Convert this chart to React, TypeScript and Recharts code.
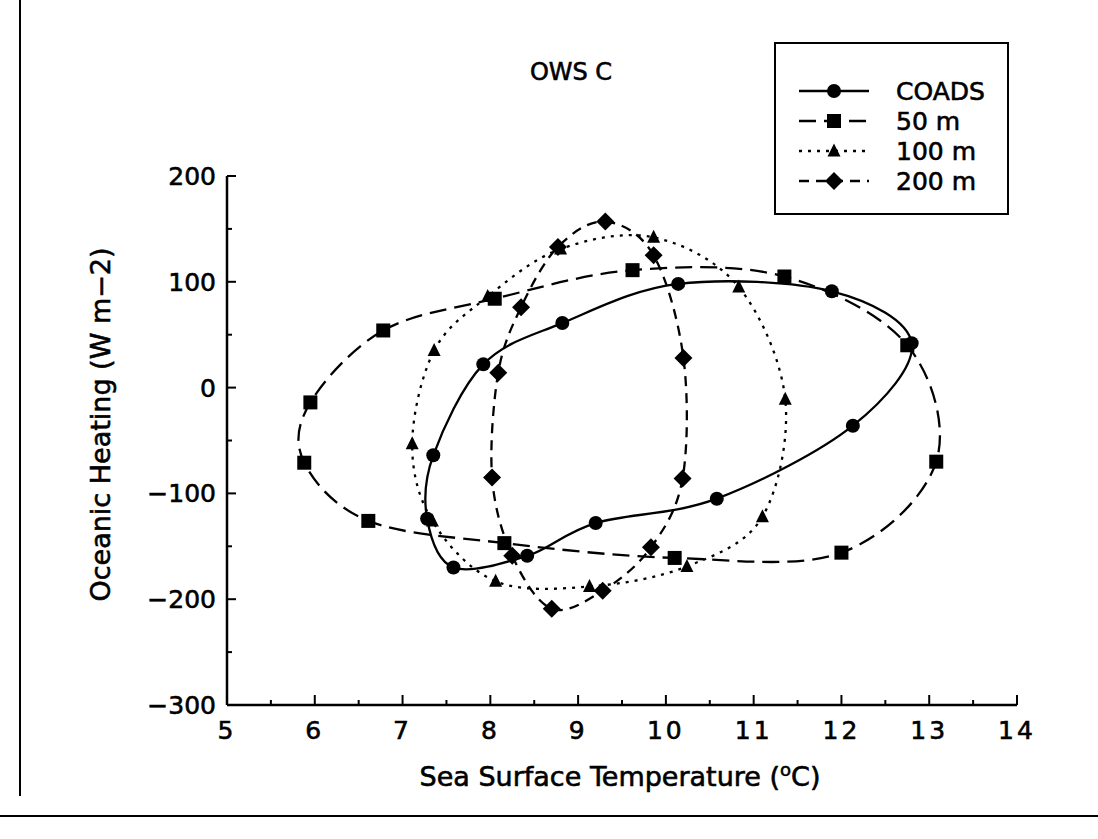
import React from 'react';
import { ComposedChart, Line, XAxis, YAxis, Legend } from 'recharts';

// ---- data ----
const xTickValues = [5, 5.5, 6, 6.5, 7, 7.5, 8, 8.5, 9, 9.5, 10, 10.5, 11, 11.5, 12, 12.5, 13, 13.5, 14];
const yTickValues = [-300, -250, -200, -150, -100, -50, 0, 50, 100, 150, 200];

const seriesNames = ['COADS', '50 m', '100 m', '200 m'];

const coadsX = [7.35, 7.28, 7.58, 8.42, 9.2, 10.58, 12.13, 12.8, 11.89, 10.14, 8.82, 7.92];
const coadsY = [-64, -124, -170, -159, -128, -105, -36, 42, 91, 98, 61, 22];

const m50X = [6.78, 8.05, 9.62, 11.35, 12.75, 13.08, 12.0, 10.1, 8.16, 6.61, 5.88, 5.95];
const m50Y = [54, 84, 111, 105, 40, -70, -156, -161, -147, -126, -71, -14];

const m100X = [7.36, 7.97, 8.8, 9.86, 10.83, 11.36, 11.1, 10.24, 9.13, 8.06, 7.34, 7.11];
const m100Y = [35, 86, 131, 142, 95, -11, -122, -169, -188, -183, -126, -53];

const m200X = [9.31, 9.86, 10.2, 10.19, 9.83, 9.28, 8.7, 8.25, 8.02, 8.09, 8.35, 8.77];
const m200Y = [157, 125, 28, -86, -151, -192, -209, -159, -85, 14, 76, 133];

const toPoints = (xs: number[], ys: number[]) => xs.map((x, i) => ({ x, y: ys[i] }));

const FONT = '"DejaVu Sans", sans-serif';
const TEXT_STROKE = 0.6;

type Shape = 'circle' | 'square' | 'triangle' | 'diamond';

const series = [
  { name: seriesNames[0], data: toPoints(coadsX, coadsY), dash: undefined as string | undefined, shape: 'circle' as Shape },
  { name: seriesNames[1], data: toPoints(m50X, m50Y), dash: '17 8', shape: 'square' as Shape },
  { name: seriesNames[2], data: toPoints(m100X, m100Y), dash: '3 6', shape: 'triangle' as Shape },
  { name: seriesNames[3], data: toPoints(m200X, m200Y), dash: '10 7', shape: 'diamond' as Shape },
];

// closed Catmull-Rom curve factory
function closedSpline(context: any) {
  let pts: number[][] = [];
  return {
    areaStart() {},
    areaEnd() {},
    lineStart() {
      pts = [];
    },
    point(x: number, y: number) {
      pts.push([+x, +y]);
    },
    lineEnd() {
      const n = pts.length;
      if (n === 0) return;
      context.moveTo(pts[0][0], pts[0][1]);
      if (n < 3) {
        for (let i = 1; i < n; i++) context.lineTo(pts[i][0], pts[i][1]);
        return;
      }
      for (let i = 0; i < n; i++) {
        const p0 = pts[(i - 1 + n) % n];
        const p1 = pts[i];
        const p2 = pts[(i + 1) % n];
        const p3 = pts[(i + 2) % n];
        context.bezierCurveTo(
          p1[0] + (p2[0] - p0[0]) / 6,
          p1[1] + (p2[1] - p0[1]) / 6,
          p2[0] - (p3[0] - p1[0]) / 6,
          p2[1] - (p3[1] - p1[1]) / 6,
          p2[0],
          p2[1]
        );
      }
      context.closePath();
    },
  };
}

function Marker({ shape, cx, cy }: { shape: Shape; cx: number; cy: number }) {
  if (shape === 'circle') return <circle cx={cx} cy={cy} r={7} fill="#000" />;
  if (shape === 'square') return <rect x={cx - 7} y={cy - 7} width={14} height={14} fill="#000" />;
  if (shape === 'triangle')
    return <polygon points={`${cx},${cy - 7.5} ${cx + 6.5},${cy + 5.5} ${cx - 6.5},${cy + 5.5}`} fill="#000" />;
  return <polygon points={`${cx},${cy - 9} ${cx + 9},${cy} ${cx},${cy + 9} ${cx - 9},${cy}`} fill="#000" />;
}

const makeDot = (shape: Shape, name: string) => (props: any) => {
  const { cx, cy, index } = props;
  if (cx == null || cy == null) return <g key={`${name}-${index}`} />;
  return (
    <g key={`${name}-${index}`}>
      <Marker shape={shape} cx={cx} cy={cy} />
    </g>
  );
};

const fmtY = (v: number) => (v < 0 ? `\u2212${Math.abs(v)}` : `${v}`);

const textProps = {
  fontFamily: FONT,
  fill: '#000',
  stroke: '#000',
  strokeWidth: TEXT_STROKE,
};

const YTick = (props: any) => {
  const { x, y, payload } = props;
  const v = payload.value;
  const major = v % 100 === 0;
  return (
    <g>
      <line x1={x} x2={x + (major ? 9 : 5)} y1={y} y2={y} stroke="#000" strokeWidth={2} />
      {major && (
        <text x={x - 11} y={y} dy="0.36em" textAnchor="end" fontSize={25} {...textProps}>
          {fmtY(v)}
        </text>
      )}
    </g>
  );
};

const XTick = (props: any) => {
  const { x, y, payload } = props;
  const v = payload.value;
  const major = Number.isInteger(v);
  return (
    <g>
      <line x1={x} x2={x} y1={y} y2={y - (major ? 10 : 5)} stroke="#000" strokeWidth={2} />
      {major && (
        <text x={x} y={y + 34} textAnchor="middle" fontSize={25} letterSpacing={3} {...textProps}>
          {`${v}`}
        </text>
      )}
    </g>
  );
};

const XLabel = (props: any) => {
  const vb = props.viewBox || {};
  const cx = vb.x + vb.width / 2;
  return (
    <text x={cx - 2} y={vb.y + 81} textAnchor="middle" fontSize={27} {...textProps}>
      Sea Surface Temperature (
      <tspan fontSize={18} dy={-10}>o</tspan>
      <tspan dy={10}>C)</tspan>
    </text>
  );
};

const YLabel = (props: any) => {
  const vb = props.viewBox || {};
  const cx = vb.x + 3;
  const cy = vb.y + vb.height / 2 - 16;
  return (
    <text
      x={cx}
      y={cy}
      transform={`rotate(-90 ${cx} ${cy})`}
      textAnchor="middle"
      dominantBaseline="central"
      fontSize={27}
      {...textProps}
    >
      Oceanic Heating (W m{'\u2212'}2)
    </text>
  );
};

const LegendBox = () => {
  const rowY = [49, 79, 109, 139];
  return (
    <svg width={236} height={174} style={{ display: 'block' }}>
      <rect x={1} y={1} width={233} height={171} fill="#fff" stroke="#000" strokeWidth={2} />
      {series.map((s, i) => (
        <g key={s.name}>
          <line x1={25} x2={95} y1={rowY[i]} y2={rowY[i]} stroke="#000" strokeWidth={2.3} strokeDasharray={s.dash} />
          <Marker shape={s.shape} cx={60} cy={rowY[i]} />
          <text x={122} y={rowY[i]} dy="0.36em" fontSize={25} {...textProps}>
            {s.name}
          </text>
        </g>
      ))}
    </svg>
  );
};

export default function App() {
  return (
    <div style={{ position: 'absolute', left: 0, top: 0, width: 1098, height: 839, background: '#fff' }}>
      <div style={{ position: 'absolute', left: 19, top: 0, width: 2, height: 796, background: '#000' }} />
      <div style={{ position: 'absolute', left: 0, top: 815, width: 1098, height: 2, background: '#000' }} />
      <div
        style={{
          position: 'absolute',
          left: 471,
          top: 58,
          width: 200,
          textAlign: 'center',
          fontFamily: FONT,
          fontSize: 24,
          color: '#000',
          WebkitTextStroke: '0.6px #000',
        }}
      >
        OWS C
      </div>
      <ComposedChart
        width={1098}
        height={839}
        margin={{ top: 176, right: 81, bottom: 34, left: 97 }}
        style={{ position: 'absolute', left: 0, top: 0 }}
      >
        <XAxis
          type="number"
          dataKey="x"
          domain={[5, 14]}
          ticks={xTickValues}
          interval={0}
          allowDataOverflow
          height={100}
          tickSize={0}
          tickMargin={0}
          tick={<XTick />}
          axisLine={{ stroke: '#000', strokeWidth: 2.5 }}
          tickLine={false}
          label={<XLabel />}
        />
        <YAxis
          type="number"
          dataKey="y"
          domain={[-300, 200]}
          ticks={yTickValues}
          interval={0}
          allowDataOverflow
          width={130}
          tickSize={0}
          tickMargin={0}
          tick={<YTick />}
          axisLine={{ stroke: '#000', strokeWidth: 2.5 }}
          tickLine={false}
          label={<YLabel />}
        />
        <Legend
          layout="vertical"
          align="center"
          verticalAlign="middle"
          content={() => <LegendBox />}
          wrapperStyle={{ left: 774, top: 42, width: 236, height: 174 }}
        />
        {series.map((s) => (
          <Line
            key={s.name}
            name={s.name}
            data={s.data}
            dataKey="y"
            type={closedSpline as any}
            stroke="#000"
            strokeWidth={2.3}
            strokeDasharray={s.dash}
            dot={makeDot(s.shape, s.name)}
            activeDot={false}
            isAnimationActive={false}
            legendType="none"
          />
        ))}
      </ComposedChart>
    </div>
  );
}
